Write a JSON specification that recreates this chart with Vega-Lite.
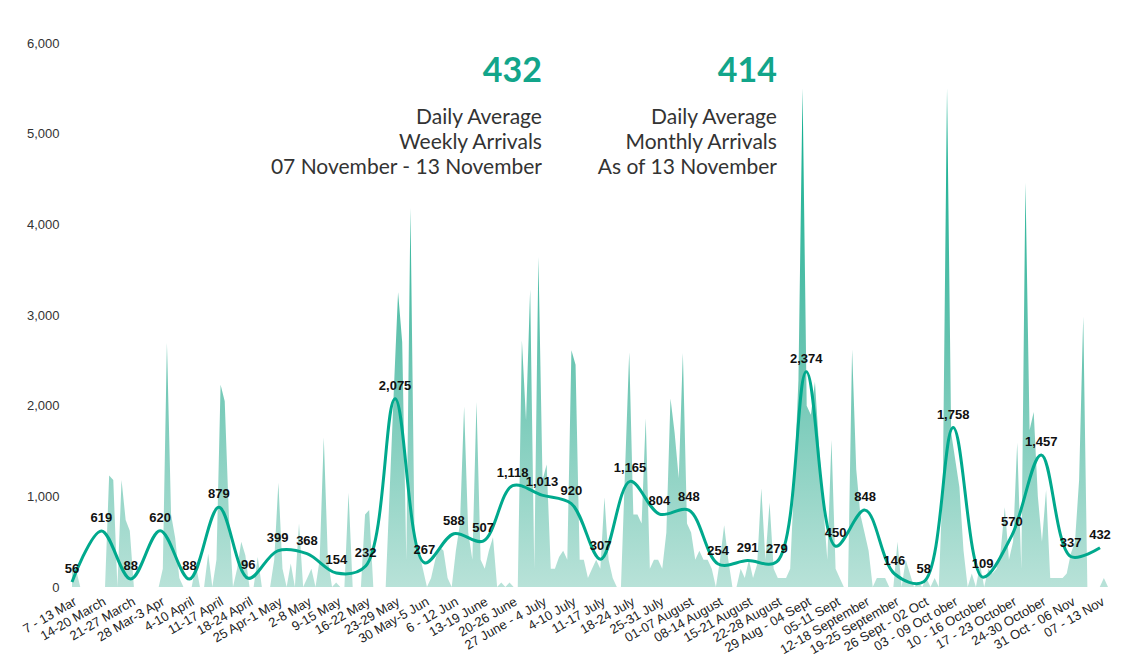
{
  "$schema": "https://vega.github.io/schema/vega-lite/v6.json",
  "width": 1036,
  "height": 544,
  "autosize": {"type": "none"},
  "padding": {"left": 72, "top": 43, "right": 13, "bottom": 70},
  "background": "white",
  "config": {
    "view": {"stroke": null},
    "axisY": {"format": ",d", "grid": false, "domain": false, "ticks": false, "labelPadding": 13, "labelFont": "Liberation Sans", "labelFontSize": 13, "labelColor": "#333333", "tickCount": 6}
  },
  "datasets": {
    "daily": [
      {"day":0,"arrivals":210},{"day":1,"arrivals":190},{"day":2,"arrivals":0},{"day":3,"arrivals":0},{"day":4,"arrivals":0},{"day":5,"arrivals":0},{"day":6,"arrivals":0},
      {"day":7,"arrivals":0},{"day":8,"arrivals":0},{"day":9,"arrivals":1230},{"day":10,"arrivals":1180},{"day":11,"arrivals":0},{"day":12,"arrivals":1180},{"day":13,"arrivals":740},
      {"day":14,"arrivals":620},{"day":15,"arrivals":0},{"day":16,"arrivals":0},{"day":17,"arrivals":0},{"day":18,"arrivals":0},{"day":19,"arrivals":0},{"day":20,"arrivals":0},
      {"day":21,"arrivals":0},{"day":22,"arrivals":200},{"day":23,"arrivals":2690},{"day":24,"arrivals":800},{"day":25,"arrivals":540},{"day":26,"arrivals":100},{"day":27,"arrivals":0},
      {"day":28,"arrivals":0},{"day":29,"arrivals":0},{"day":30,"arrivals":250},{"day":31,"arrivals":0},{"day":32,"arrivals":0},{"day":33,"arrivals":370},{"day":34,"arrivals":0},
      {"day":35,"arrivals":300},{"day":36,"arrivals":2230},{"day":37,"arrivals":2050},{"day":38,"arrivals":800},{"day":39,"arrivals":0},{"day":40,"arrivals":200},{"day":41,"arrivals":500},
      {"day":42,"arrivals":350},{"day":43,"arrivals":0},{"day":44,"arrivals":0},{"day":45,"arrivals":330},{"day":46,"arrivals":0},{"day":47,"arrivals":0},{"day":48,"arrivals":0},
      {"day":49,"arrivals":300},{"day":50,"arrivals":1150},{"day":51,"arrivals":200},{"day":52,"arrivals":0},{"day":53,"arrivals":260},{"day":54,"arrivals":0},{"day":55,"arrivals":700},
      {"day":56,"arrivals":0},{"day":57,"arrivals":100},{"day":58,"arrivals":200},{"day":59,"arrivals":0},{"day":60,"arrivals":300},{"day":61,"arrivals":1650},{"day":62,"arrivals":300},
      {"day":63,"arrivals":0},{"day":64,"arrivals":50},{"day":65,"arrivals":0},{"day":66,"arrivals":0},{"day":67,"arrivals":1040},{"day":68,"arrivals":0},{"day":69,"arrivals":0},
      {"day":70,"arrivals":0},{"day":71,"arrivals":800},{"day":72,"arrivals":850},{"day":73,"arrivals":0},{"day":74,"arrivals":0},{"day":75,"arrivals":0},{"day":76,"arrivals":0},
      {"day":77,"arrivals":1100},{"day":78,"arrivals":2200},{"day":79,"arrivals":3250},{"day":80,"arrivals":2700},{"day":81,"arrivals":300},{"day":82,"arrivals":4180},{"day":83,"arrivals":500},
      {"day":84,"arrivals":400},{"day":85,"arrivals":200},{"day":86,"arrivals":0},{"day":87,"arrivals":100},{"day":88,"arrivals":300},{"day":89,"arrivals":450},{"day":90,"arrivals":400},
      {"day":91,"arrivals":100},{"day":92,"arrivals":0},{"day":93,"arrivals":400},{"day":94,"arrivals":700},{"day":95,"arrivals":1990},{"day":96,"arrivals":600},{"day":97,"arrivals":300},
      {"day":98,"arrivals":2040},{"day":99,"arrivals":300},{"day":100,"arrivals":200},{"day":101,"arrivals":400},{"day":102,"arrivals":550},{"day":103,"arrivals":0},{"day":104,"arrivals":50},
      {"day":105,"arrivals":0},{"day":106,"arrivals":50},{"day":107,"arrivals":0},{"day":108,"arrivals":0},{"day":109,"arrivals":2720},{"day":110,"arrivals":1840},{"day":111,"arrivals":3280},
      {"day":112,"arrivals":200},{"day":113,"arrivals":3640},{"day":114,"arrivals":1180},{"day":115,"arrivals":1350},{"day":116,"arrivals":200},{"day":117,"arrivals":200},{"day":118,"arrivals":330},
      {"day":119,"arrivals":400},{"day":120,"arrivals":300},{"day":121,"arrivals":2610},{"day":122,"arrivals":2450},{"day":123,"arrivals":300},{"day":124,"arrivals":300},{"day":125,"arrivals":100},
      {"day":126,"arrivals":200},{"day":127,"arrivals":300},{"day":128,"arrivals":200},{"day":129,"arrivals":990},{"day":130,"arrivals":300},{"day":131,"arrivals":100},{"day":132,"arrivals":0},
      {"day":133,"arrivals":0},{"day":134,"arrivals":1300},{"day":135,"arrivals":2590},{"day":136,"arrivals":800},{"day":137,"arrivals":800},{"day":138,"arrivals":700},{"day":139,"arrivals":1860},
      {"day":140,"arrivals":200},{"day":141,"arrivals":300},{"day":142,"arrivals":300},{"day":143,"arrivals":200},{"day":144,"arrivals":600},{"day":145,"arrivals":2080},{"day":146,"arrivals":1700},
      {"day":147,"arrivals":1200},{"day":148,"arrivals":2580},{"day":149,"arrivals":700},{"day":150,"arrivals":600},{"day":151,"arrivals":300},{"day":152,"arrivals":400},{"day":153,"arrivals":300},
      {"day":154,"arrivals":300},{"day":155,"arrivals":200},{"day":156,"arrivals":0},{"day":157,"arrivals":300},{"day":158,"arrivals":680},{"day":159,"arrivals":300},{"day":160,"arrivals":0},
      {"day":161,"arrivals":0},{"day":162,"arrivals":200},{"day":163,"arrivals":100},{"day":164,"arrivals":300},{"day":165,"arrivals":100},{"day":166,"arrivals":250},{"day":167,"arrivals":1090},
      {"day":168,"arrivals":300},{"day":169,"arrivals":930},{"day":170,"arrivals":200},{"day":171,"arrivals":100},{"day":172,"arrivals":100},{"day":173,"arrivals":100},{"day":174,"arrivals":200},
      {"day":175,"arrivals":1200},{"day":176,"arrivals":2280},{"day":177,"arrivals":5500},{"day":178,"arrivals":2000},{"day":179,"arrivals":1900},{"day":180,"arrivals":2260},{"day":181,"arrivals":1550},
      {"day":182,"arrivals":900},{"day":183,"arrivals":300},{"day":184,"arrivals":1620},{"day":185,"arrivals":200},{"day":186,"arrivals":100},{"day":187,"arrivals":0},{"day":188,"arrivals":0},
      {"day":189,"arrivals":2620},{"day":190,"arrivals":1300},{"day":191,"arrivals":800},{"day":192,"arrivals":600},{"day":193,"arrivals":400},{"day":194,"arrivals":0},{"day":195,"arrivals":100},
      {"day":196,"arrivals":100},{"day":197,"arrivals":100},{"day":198,"arrivals":0},{"day":199,"arrivals":0},{"day":200,"arrivals":500},{"day":201,"arrivals":0},{"day":202,"arrivals":300},
      {"day":203,"arrivals":150},{"day":204,"arrivals":0},{"day":205,"arrivals":50},{"day":206,"arrivals":0},{"day":207,"arrivals":100},{"day":208,"arrivals":0},{"day":209,"arrivals":100},
      {"day":210,"arrivals":0},{"day":211,"arrivals":1200},{"day":212,"arrivals":5500},{"day":213,"arrivals":1700},{"day":214,"arrivals":1400},{"day":215,"arrivals":1100},{"day":216,"arrivals":400},
      {"day":217,"arrivals":0},{"day":218,"arrivals":150},{"day":219,"arrivals":0},{"day":220,"arrivals":250},{"day":221,"arrivals":0},{"day":222,"arrivals":200},{"day":223,"arrivals":150},
      {"day":224,"arrivals":200},{"day":225,"arrivals":400},{"day":226,"arrivals":880},{"day":227,"arrivals":300},{"day":228,"arrivals":500},{"day":229,"arrivals":1590},{"day":230,"arrivals":200},
      {"day":231,"arrivals":4460},{"day":232,"arrivals":1730},{"day":233,"arrivals":1930},{"day":234,"arrivals":1000},{"day":235,"arrivals":500},{"day":236,"arrivals":1070},{"day":237,"arrivals":100},
      {"day":238,"arrivals":100},{"day":239,"arrivals":100},{"day":240,"arrivals":100},{"day":241,"arrivals":150},{"day":242,"arrivals":370},{"day":243,"arrivals":500},{"day":244,"arrivals":1180},
      {"day":245,"arrivals":2980},{"day":246,"arrivals":0},{"day":247,"arrivals":0},{"day":248,"arrivals":0},{"day":249,"arrivals":0},{"day":250,"arrivals":100},{"day":251,"arrivals":0}
    ],
    "weekly": [
      {"week":"7 - 13 Mar","avg":56},
      {"week":"14-20 March","avg":619},
      {"week":"21-27 March","avg":88},
      {"week":"28 Mar-3 Apr","avg":620},
      {"week":"4-10 April","avg":88},
      {"week":"11-17 April","avg":879},
      {"week":"18-24 April","avg":96},
      {"week":"25 Apr-1 May","avg":399},
      {"week":"2-8 May","avg":368},
      {"week":"9-15 May","avg":154},
      {"week":"16-22 May","avg":232},
      {"week":"23-29 May","avg":2075},
      {"week":"30 May-5 Jun","avg":267},
      {"week":"6 - 12 Jun","avg":588},
      {"week":"13-19 June","avg":507},
      {"week":"20-26 June","avg":1118},
      {"week":"27 June - 4 July","avg":1013},
      {"week":"4-10 July","avg":920},
      {"week":"11-17 July","avg":307},
      {"week":"18-24 July","avg":1165},
      {"week":"25-31 July","avg":804},
      {"week":"01-07 August","avg":848},
      {"week":"08-14 August","avg":254},
      {"week":"15-21 August","avg":291},
      {"week":"22-28 August","avg":279},
      {"week":"29 Aug - 04 Sept","avg":2374},
      {"week":"05-11 Sept","avg":450},
      {"week":"12-18 September","avg":848},
      {"week":"19-25 September","avg":146},
      {"week":"26 Sept - 02 Oct","avg":58},
      {"week":"03 - 09 Oct ober","avg":1758},
      {"week":"10 - 16 October","avg":109},
      {"week":"17 - 23 October","avg":570},
      {"week":"24-30 October","avg":1457},
      {"week":"31 Oct - 06 Nov","avg":337},
      {"week":"07 - 13 Nov","avg":432}
    ],
    "notes": [
      {"week":"27 June - 4 July","big":"432","desc":"Daily Average\nWeekly Arrivals\n07 November - 13 November"},
      {"week":"22-28 August","big":"414","desc":"Daily Average\nMonthly Arrivals\nAs of 13 November"}
    ]
  },
  "layer": [
    {
      "data": {"name": "daily"},
      "mark": {
        "type": "area",
        "interpolate": "linear",
        "fill": {
          "gradient": "linear",
          "x1": 0, "y1": 1, "x2": 0, "y2": 0,
          "stops": [
            {"offset": 0, "color": "#b8e2d8"},
            {"offset": 0.5, "color": "#62c2ae"},
            {"offset": 1, "color": "#08ad8d"}
          ]
        }
      },
      "encoding": {
        "x": {"field": "day", "type": "quantitative", "scale": {"domain": [0, 251], "nice": false, "zero": false}, "axis": null},
        "y": {
          "field": "arrivals", "type": "quantitative",
          "scale": {"domain": [0, 6000], "nice": false},
          "axis": {"title": null}
        }
      }
    },
    {
      "encoding": {
        "x": {
          "field": "week", "type": "ordinal",
          "scale": {
            "type": "point", "range": [0, 1028], "padding": 0,
            "domain": ["7 - 13 Mar","14-20 March","21-27 March","28 Mar-3 Apr","4-10 April","11-17 April","18-24 April","25 Apr-1 May","2-8 May","9-15 May","16-22 May","23-29 May","30 May-5 Jun","6 - 12 Jun","13-19 June","20-26 June","27 June - 4 July","4-10 July","11-17 July","18-24 July","25-31 July","01-07 August","08-14 August","15-21 August","22-28 August","29 Aug - 04 Sept","05-11 Sept","12-18 September","19-25 September","26 Sept - 02 Oct","03 - 09 Oct ober","10 - 16 October","17 - 23 October","24-30 October","31 Oct - 06 Nov","07 - 13 Nov"]
          },
          "axis": {
            "title": null, "labelAngle": -30, "labelAlign": "right", "labelBaseline": "top",
            "domain": false, "ticks": false, "grid": false, "labelPadding": 8,
            "labelFont": "Liberation Sans", "labelFontSize": 13, "labelColor": "#222222",
            "labelOverlap": false
          }
        }
      },
      "layer": [
        {
          "data": {"name": "weekly"},
          "mark": {"type": "line", "interpolate": "catmull-rom", "stroke": "#00a98d", "strokeWidth": 3},
          "encoding": {"y": {"field": "avg", "type": "quantitative", "axis": {"title": null}}}
        },
        {
          "data": {"name": "weekly"},
          "mark": {"type": "text", "font": "Liberation Sans", "fontWeight": "bold", "fontSize": 13, "color": "#111111", "baseline": "bottom", "dy": -6},
          "encoding": {
            "y": {"field": "avg", "type": "quantitative", "axis": {"title": null}},
            "text": {"field": "avg", "type": "quantitative", "format": ","}
          }
        },
        {
          "data": {"name": "notes"},
          "mark": {"type": "text", "font": "Lato", "fontWeight": "bold", "fontSize": 34, "color": "#12a58a", "align": "right", "baseline": "alphabetic"},
          "encoding": {
            "y": {"datum": 5570, "type": "quantitative", "axis": {"title": null}},
            "text": {"field": "big", "type": "nominal"}
          }
        },
        {
          "data": {"name": "notes"},
          "mark": {"type": "text", "font": "Lato", "fontSize": 21, "color": "#333333", "align": "right", "baseline": "alphabetic", "lineBreak": "\n", "lineHeight": 25},
          "encoding": {
            "y": {"datum": 5107, "type": "quantitative", "axis": {"title": null}},
            "text": {"field": "desc", "type": "nominal"}
          }
        }
      ]
    }
  ],
  "resolve": {"scale": {"x": "independent"}}
}
